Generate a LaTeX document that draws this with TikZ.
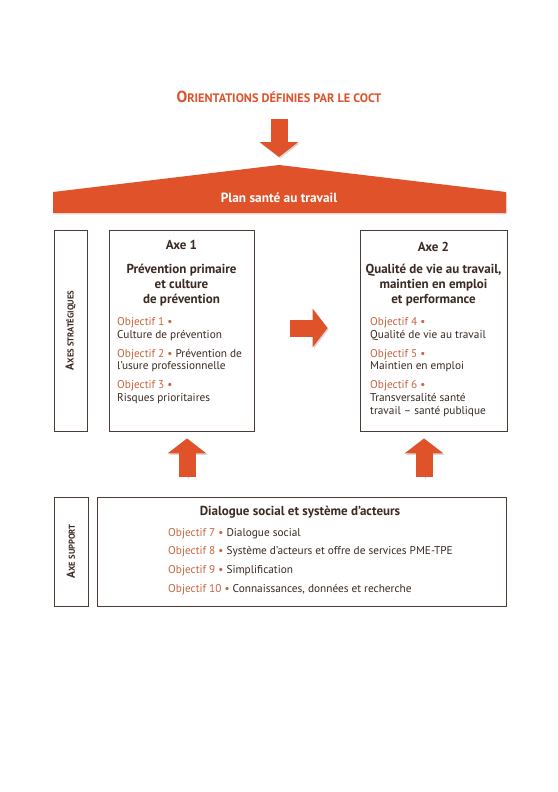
\documentclass[tikz,border=0pt]{standalone}
\usepackage{fontspec}
\setmainfont{PT Sans}
\usetikzlibrary{positioning,calc,arrows.meta,shadows}
\definecolor{COCTorange}{HTML}{E0532A}
\definecolor{OBJsalmon}{HTML}{C8653F}
\definecolor{TXTbrown}{HTML}{3A2A22}
\definecolor{BOXframe}{HTML}{4A3B35}
\newcommand{\obj}[1]{\textcolor{OBJsalmon}{Objectif #1 •}}

\begin{document}
\begin{tikzpicture}[x=1pt,y=-1pt,
  frame/.style={draw=BOXframe,line width=0.8pt,inner sep=0pt},
  line/.style={anchor=base west,inner sep=0pt,text=TXTbrown,font=\fontsize{11.3}{13}\selectfont},
  head/.style={align=center,inner sep=0pt,text=TXTbrown,font=\fontsize{13}{15}\selectfont\bfseries},
  side/.style={rotate=90,inner sep=0pt,text=TXTbrown,font=\bfseries},
  fat/.style={COCTorange,line width=17pt,-{Triangle[width=38pt,length=15pt]},
    preaction={draw=black!15,transform canvas={shift={(1.2pt,-1.5pt)}}}}]
\fill[white] (0,0) rectangle (557,792);
% title and roof
\node[inner sep=0pt,text=COCTorange,font=\bfseries] (orient) at (279,97)
  {{\fontsize{16}{18}\selectfont O}{\fontsize{12.3}{14}\selectfont RIENTATIONS DÉFINIES PAR LE COCT}};
\coordinate (apex) at (279,165);
\fill[COCTorange,drop shadow={shadow xshift=1.2pt,shadow yshift=-1.5pt,fill=black!20}]
  (53,192) -- (apex) -- (506,192) -- (506,213) -- (53,213) -- cycle;
\node[inner sep=0pt,text=white,font=\fontsize{13.3}{15}\selectfont\bfseries] (plan) at (279,198) {Plan santé au travail};
\draw[fat,shorten <=16pt,shorten >=8pt] (orient.south) -- (apex);
% strategic axes
\node[frame,minimum width=33pt,minimum height=201pt] (axesL) at (70.5,330.5) {};
\node[side] (axesT) at (axesL) {\fontsize{11.5}{13}\selectfont A\fontsize{8.6}{10}\selectfont XES STRATÉGIQUES};
\node[frame,minimum width=145pt,minimum height=201pt] (axe1) at (181.5,330.5) {};
\node[frame,minimum width=147pt,minimum height=201pt] (axe2) at (433.5,330.5) {};
\node[head] (axe1T) at (181.5,245) {Axe 1};
\node[head] (axe1H) at (181.5,285) {Prévention primaire\\et culture\\de prévention};
\node[head] (axe2T) at (433.5,247) {Axe 2};
\node[head] (axe2H) at (433.5,285) {Qualité de vie au travail,\\maintien en emploi\\et performance};
\foreach \yy/\tx [count=\i] in {325.5/{\obj{1}},338.5/{Culture de prévention},
    357.5/{\obj{2} Prévention de},369.5/{l'usure professionnelle},
    388.5/{\obj{3}},401.5/{Risques prioritaires}}
  \node[line] (axe1L\i) at (117,\yy) {\tx};
\foreach \yy/\tx [count=\i] in {325.5/{\obj{4}},338.5/{Qualité de vie au travail},
    357.5/{\obj{5}},369.5/{Maintien en emploi},
    388.5/{\obj{6}},401.5/{Transversalité santé},414.5/{travail – santé publique}}
  \node[line] (axe2L\i) at (370,\yy) {\tx};
\draw[fat,shorten <=36pt,shorten >=32pt] (axe1.east |- 0,328) -- (axe2.west |- 0,328);
% support axis
\node[frame,minimum width=34pt,minimum height=109pt] (suppL) at (71,551.5) {};
\node[side] (suppT) at (suppL) {\fontsize{11.5}{13}\selectfont A\fontsize{8.6}{10}\selectfont XE SUPPORT};
\node[frame,minimum width=409pt,minimum height=109pt] (supp) at (301.5,551.5) {};
\node[head] (suppH) at (300,512) {Dialogue social et système d’acteurs};
\foreach \yy/\tx [count=\i] in {536.5/{\obj{7} Dialogue social},
    554.5/{\obj{8} Système d'acteurs et offre de services PME-TPE},
    573.5/{\obj{9} Simplification},592.5/{\obj{10} Connaissances, données et recherche}}
  \node[line] (suppL\i) at (168,\yy) {\tx};
\coordinate (up1) at (187,497);
\coordinate (up2) at (424,497);
\draw[fat,shorten <=20pt,shorten >=7pt] (up1) -- (up1 |- axe1.south);
\draw[fat,shorten <=20pt,shorten >=7pt] (up2) -- (up2 |- axe2.south);
\end{tikzpicture}
\end{document}
